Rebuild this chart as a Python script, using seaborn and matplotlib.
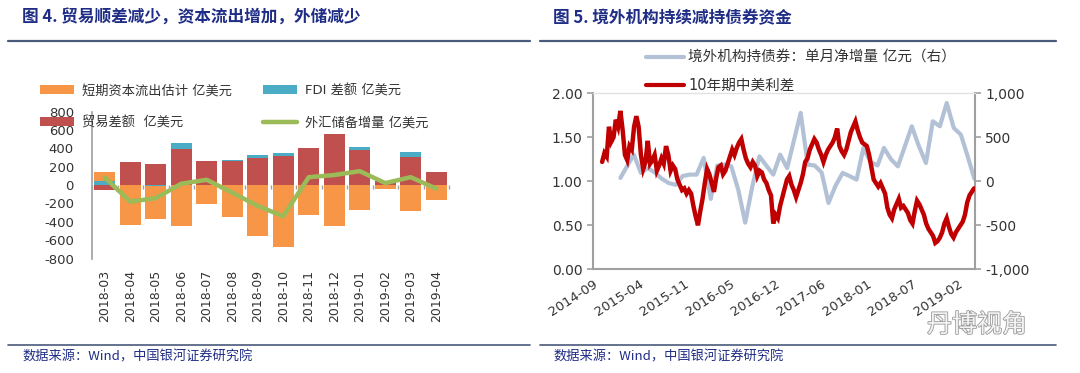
import numpy as np
import pandas as pd
import matplotlib
matplotlib.use("Agg")
import matplotlib.pyplot as plt
import matplotlib.patheffects as pe
from matplotlib.lines import Line2D
from matplotlib.patches import Patch
from matplotlib.ticker import FuncFormatter
import seaborn as sns

sns.set_style("white")
plt.rcParams["font.family"] = ["DejaVu Sans", "Noto Sans CJK SC"]
plt.rcParams["axes.unicode_minus"] = False

# ---------------- data: figure 4 ----------------
months = ["2018-03", "2018-04", "2018-05", "2018-06", "2018-07", "2018-08", "2018-09",
          "2018-10", "2018-11", "2018-12", "2019-01", "2019-02", "2019-03", "2019-04"]
trade_balance = [-50, 256, 231, 398, 267, 265, 291, 320, 409, 558, 381, 40, 309, 139]
fdi_balance = [50, 0, -15, 64, 0, 10, 40, 25, 0, 0, 39, 0, 57, 0]
short_capital = [92, -434, -351, -448, -206, -349, -551, -676, -327, -445, -267, -45, -277, -167]
fx_reserve_change = [83, -180, -142, 15, 58, -82, -227, -339, 86, 110, 152, 22, 86, -38]
left_yticks = [-800, -600, -400, -200, 0, 200, 400, 600, 800]

# ---------------- data: figure 5 ----------------
spread_start = "2014-11-09"   # 10-day sampled 10Y China-US spread
spread_vals = [
    1.22, 1.32, 1.28, 1.62, 1.45, 1.50, 1.70, 1.62, 1.80, 1.58,
    1.30, 1.24, 1.40, 1.36, 1.62, 1.74, 1.62, 1.30, 1.14, 1.22,
    1.46, 1.20, 1.24, 1.30, 1.12, 1.18, 1.26, 1.20, 1.40, 1.30,
    1.12, 1.18, 1.14, 1.02, 0.96, 0.90, 0.92, 0.86, 0.90, 0.86,
    0.72, 0.60, 0.50, 0.66, 0.80, 0.98, 1.14, 1.08, 0.98, 0.88,
    1.04, 1.16, 1.18, 1.08, 1.12, 1.20, 1.28, 1.36, 1.30, 1.38,
    1.44, 1.48, 1.36, 1.26, 1.20, 1.16, 1.22, 1.18, 1.06, 1.12,
    1.10, 1.02, 0.98, 0.90, 0.84, 0.52, 0.62, 0.58, 0.72, 0.82,
    0.92, 1.02, 1.06, 0.96, 0.90, 0.82, 0.90, 0.98, 1.08, 1.22,
    1.26, 1.36, 1.42, 1.48, 1.44, 1.36, 1.30, 1.22, 1.30, 1.36,
    1.40, 1.44, 1.50, 1.60, 1.40, 1.34, 1.30, 1.36, 1.46, 1.56,
    1.62, 1.68, 1.58, 1.50, 1.44, 1.42, 1.40, 1.30, 1.16, 1.02,
    0.98, 0.94, 0.98, 0.92, 0.86, 0.70, 0.62, 0.58, 0.68, 0.74,
    0.80, 0.70, 0.72, 0.68, 0.64, 0.56, 0.52, 0.66, 0.78, 0.74,
    0.68, 0.62, 0.52, 0.46, 0.42, 0.38, 0.30, 0.32, 0.36, 0.42,
    0.52, 0.58, 0.48, 0.40, 0.36, 0.42, 0.46, 0.50, 0.54, 0.62,
    0.76, 0.84, 0.88, 0.92,
]
bond_months = ("2015-01", "2019-04")
bond_flow = [38, 180, 303, 95, 150, 100, 30, -20, -40, 60,
             76, 76, 265, -200, 180, 190, 170, -100, -470, -60,
             284, 180, 76, 303, 150, 480, 777, 189, 180, 100,
             -246, -50, 95, 60, 19, 379, 220, 180, 379, 250,
             170, 400, 625, 400, 208, 682, 625, 890, 606, 530,
             300, 30]
date_ticks = ["2014-09-30", "2015-04-18", "2015-11-04", "2016-05-22", "2016-12-08",
              "2017-06-26", "2018-01-12", "2018-07-31", "2019-02-16"]
date_range = ("2014-09-30", "2019-05-01")

# ---------------- styles ----------------
C_ORANGE = "#f79646"
C_BLUE = "#4bacc6"
C_RED = "#c0504d"
C_GREEN = "#9bbb59"
C_GREY_LINE = "#b3c1d6"
C_DARKRED = "#c00000"
C_TITLE = "#1f2d86"
C_RULE = "#4a5a7a"
C_AXIS = "#a0a0a0"
C_TEXT = "#333333"

fig = plt.figure(figsize=(10.8, 3.73), dpi=100)
W, H = 1080, 373

def fx(px):
    return px / W

def fy(py):
    return 1 - py / H

# titles, rules and sources
fig.text(fx(22), fy(18), "图 4. 贸易顺差减少，资本流出增加，外储减少", family=["Noto Sans CJK SC"],
         fontsize=12, fontweight="bold", color=C_TITLE, va="center", ha="left")
fig.text(fx(553), fy(18), "图 5. 境外机构持续减持债券资金", family=["Noto Sans CJK SC"],
         fontsize=12, fontweight="bold", color=C_TITLE, va="center", ha="left")
for x0, x1 in [(8, 530), (540, 1056)]:
    fig.add_artist(Line2D([fx(x0), fx(x1)], [fy(41), fy(41)], color=C_RULE, lw=1.6))
    fig.add_artist(Line2D([fx(x0), fx(x1)], [fy(345), fy(345)], color=C_RULE, lw=1.2))
for x0 in (22, 553):
    fig.text(fx(x0), fy(357), "数据来源：Wind，中国银河证券研究院", family=["Noto Sans CJK SC"],
             fontsize=9.5, color=C_TITLE, va="center", ha="left", style="italic")

# ---------------- figure 4 ----------------
ax1 = fig.add_axes([fx(92), fy(258.5), fx(449) - fx(92), fy(111.7) - fy(258.5)])
series = [trade_balance, fdi_balance, short_capital]
colors = [C_RED, C_BLUE, C_ORANGE]
arr = np.array(series, dtype=float)
pos_cum = np.cumsum(np.clip(arr, 0, None), axis=0)
neg_cum = np.cumsum(np.clip(arr, None, 0), axis=0)
for k in reversed(range(len(series))):
    for cum in (pos_cum, neg_cum):
        df = pd.DataFrame({"month": months, "value": cum[k]})
        sns.barplot(data=df, x="month", y="value", color=colors[k], saturation=1,
                    width=0.84, errorbar=None, ax=ax1, edgecolor="none", linewidth=0,
                    zorder=2)
df_fx = pd.DataFrame({"month": months, "value": fx_reserve_change})
sns.lineplot(data=df_fx, x="month", y="value", color=C_GREEN, lw=3.2, ax=ax1,
             sort=False, zorder=4, solid_capstyle="round", solid_joinstyle="round")
ax1.set_xlim(-0.5, len(months) - 0.5)
ax1.set_ylim(-800, 800)
ax1.set_yticks(left_yticks)
ax1.set_xlabel("")
ax1.set_ylabel("")
for s in ("top", "right", "bottom"):
    ax1.spines[s].set_visible(False)
ax1.spines["left"].set_color(C_AXIS)
ax1.spines["left"].set_linewidth(1.2)
ax1.tick_params(axis="y", direction="in", length=4, width=1, color=C_AXIS,
                labelsize=9.5, labelcolor=C_TEXT, pad=13)
ax1.tick_params(axis="x", length=0, labelsize=9, labelcolor=C_TEXT, pad=8, rotation=90)
sec = ax1.secondary_xaxis(0.5)
sec.set_xticks(np.arange(-0.5, len(months), 1.0))
sec.set_xticklabels([])
sec.tick_params(direction="in", length=3, width=1, color=C_AXIS)
sec.spines["bottom"].set_color(C_AXIS)
sec.spines["bottom"].set_linewidth(1.2)
for s in ("top", "left", "right"):
    if s in sec.spines:
        sec.spines[s].set_visible(False)

h1 = [Patch(facecolor=C_ORANGE, edgecolor="none"), Patch(facecolor=C_RED, edgecolor="none"),
      Patch(facecolor=C_BLUE, edgecolor="none"), Line2D([], [], color=C_GREEN, lw=3.2)]
l1 = ["短期资本流出估计 亿美元", "贸易差额  亿美元", "FDI 差额 亿美元", "外汇储备增量 亿美元"]
fig.legend(h1, l1, loc="upper left", bbox_to_anchor=(fx(40), fy(84)), ncol=2, frameon=False,
           prop={"family": ["DejaVu Sans", "Noto Sans CJK SC"], "size": 9.5},
           handlelength=2.6, handleheight=0.65, handletextpad=0.6, columnspacing=2.3,
           labelspacing=1.45, borderpad=0, borderaxespad=0, labelcolor=C_TEXT)

# ---------------- figure 5 ----------------
ax2 = fig.add_axes([fx(593), fy(269.3), fx(975) - fx(593), fy(93.3) - fy(269.3)])
ax2r = ax2.twinx()
spread_dates = pd.date_range(spread_start, periods=len(spread_vals), freq="10D")
bond_dates = pd.period_range(bond_months[0], bond_months[1], freq="M").to_timestamp() + pd.Timedelta(days=27)
sns.lineplot(x=bond_dates, y=bond_flow, ax=ax2r, color=C_GREY_LINE, lw=3.0,
             solid_joinstyle="round", solid_capstyle="round")
sns.lineplot(x=spread_dates, y=spread_vals, ax=ax2, color=C_DARKRED, lw=3.2,
             solid_joinstyle="miter")
ax2.set_zorder(ax2r.get_zorder() + 1)
ax2.patch.set_visible(False)

ax2.set_xlim(pd.Timestamp(date_range[0]), pd.Timestamp(date_range[1]))
ax2.set_ylim(0, 2.0)
ax2r.set_ylim(-1000, 1000)
ax2.set_yticks([0, 0.5, 1.0, 1.5, 2.0])
ax2r.set_yticks([-1000, -500, 0, 500, 1000])
ax2.yaxis.set_major_formatter(FuncFormatter(lambda v, p: f"{v:.2f}"))
ax2r.yaxis.set_major_formatter(FuncFormatter(lambda v, p: f"{v:,.0f}"))
tick_ts = pd.to_datetime(date_ticks)
ax2.set_xticks(tick_ts)
ax2.set_xticklabels([t.strftime("%Y-%m") for t in tick_ts], rotation=33, ha="right",
                    va="top", rotation_mode="anchor")
for a in (ax2, ax2r):
    a.set_xlabel("")
    a.set_ylabel("")
ax2.spines["right"].set_visible(False)
ax2.spines["top"].set_color("#e2e2e2")
ax2.spines["top"].set_linewidth(1)
for s in ("left", "bottom"):
    ax2.spines[s].set_color(C_AXIS)
    ax2.spines[s].set_linewidth(1.5)
for s in ("left", "bottom", "top"):
    ax2r.spines[s].set_visible(False)
ax2r.spines["right"].set_color(C_AXIS)
ax2r.spines["right"].set_linewidth(1.5)
ax2.tick_params(axis="both", direction="out", length=4, width=1.2, color=C_AXIS,
                labelsize=10, labelcolor=C_TEXT)
ax2.tick_params(axis="x", labelsize=9.5, pad=2)
ax2r.tick_params(axis="y", direction="out", length=4, width=1.2, color=C_AXIS,
                 labelsize=10, labelcolor=C_TEXT)

h2 = [Line2D([], [], color=C_GREY_LINE, lw=3), Line2D([], [], color=C_DARKRED, lw=3)]
l2 = ["境外机构持债券：单月净增量 亿元（右）", "10年期中美利差"]
fig.legend(h2, l2, loc="upper left", bbox_to_anchor=(fx(646), fy(50)), ncol=1, frameon=False,
           prop={"family": ["DejaVu Sans", "Noto Sans CJK SC"], "size": 10.5},
           handlelength=2.6, handletextpad=0.3, labelspacing=0.88, borderpad=0,
           borderaxespad=0, labelcolor=C_TEXT)

# watermark
fig.text(fx(977), fy(325), "丹博视角", family=["Noto Sans CJK SC"], fontsize=18,
         color="#f4f4f4", ha="center", va="center",
         path_effects=[pe.withStroke(linewidth=1.2, foreground="#9a9a9a")])

fig.savefig("out.png", dpi=100, facecolor="white")
